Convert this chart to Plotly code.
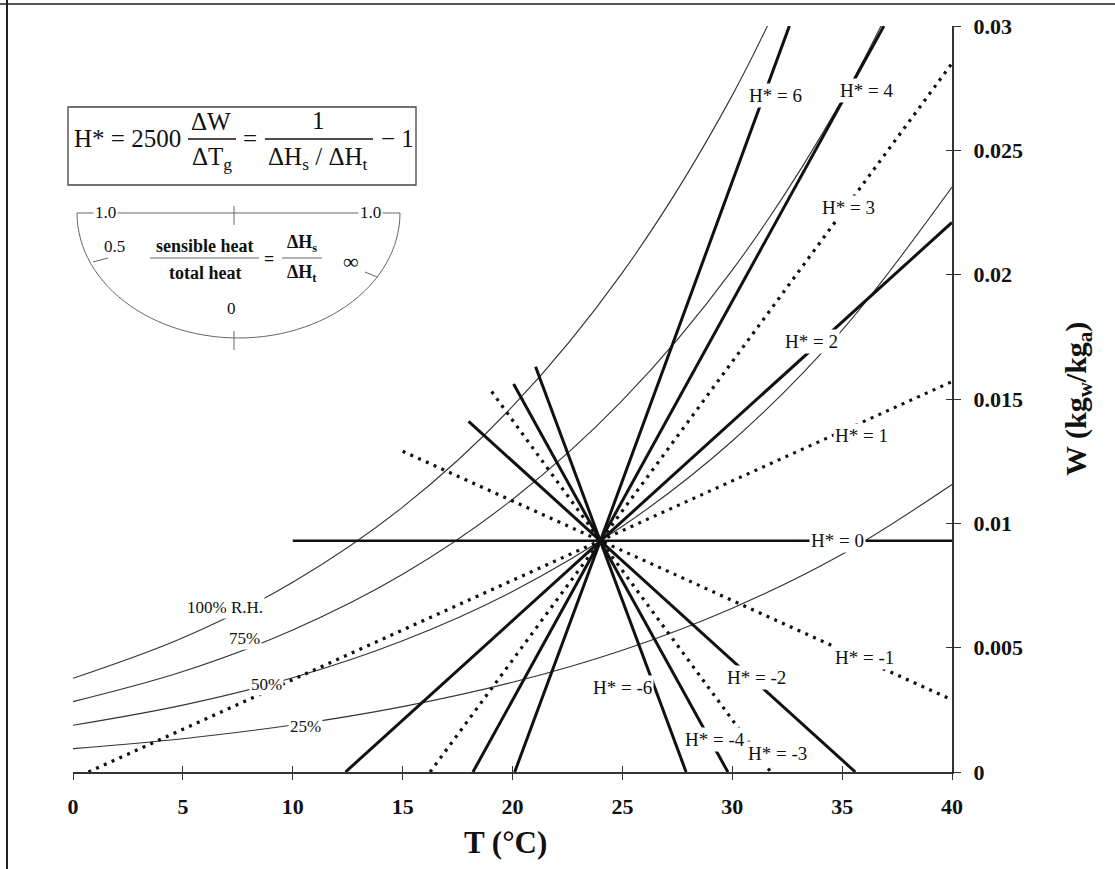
import math
import plotly.graph_objects as go

# ---------------- data ----------------
# Lines of constant H* through the state point (24 C, 0.0093)
hstar = [6, 4, 3, 2, 1, 0, -1, -2, -3, -4, -6]
t_start = [20.1, 18.2, 16.25, 12.4, 0.7, 10.0, 15.0, 18.0, 19.05, 20.05, 21.05]
w_start = [0.0, 0.0, 0.0, 0.0, 0.0, 0.0093, 0.0129, 0.0141, 0.0153, 0.0156, 0.0163]
t_end = [32.6, 36.9, 40.0, 40.0, 40.0, 40.0, 40.0, 35.6, 31.75, 29.8, 27.9]
w_end = [0.030, 0.030, 0.0285, 0.0221, 0.0157, 0.0093, 0.0029, 0.0, 0.0, 0.0, 0.0]
line_kind = ['solid', 'solid', 'dot', 'solid', 'dot', 'solid', 'dot', 'solid', 'dot', 'solid', 'solid']
state_t = 24.0
state_w = 0.0093

# label positions of the H* lines
label_t = [31.95, 36.1, 35.3, 33.6, 35.9, 34.8, 36.0, 31.1, 32.05, 29.2, 25.0]
label_w = [0.0272, 0.0274, 0.0227, 0.0173, 0.01355, 0.0093, 0.0046, 0.0038, 0.00076, 0.0013, 0.00338]

# relative humidity curves
rh_t = [0, 5, 10, 15, 20, 25, 30, 35, 40]
rh100_w = [0.00377, 0.00540, 0.00763, 0.01065, 0.01470, 0.02008, 0.02721, 0.03658, None]
rh75_w = [0.00283, 0.00404, 0.00571, 0.00795, 0.01096, 0.01494, 0.02018, 0.02704, 0.03596]
rh50_w = [0.00188, 0.00269, 0.00379, 0.00528, 0.00726, 0.00988, 0.01331, 0.01777, 0.02352]
rh25_w = [0.00094, 0.00134, 0.00189, 0.00263, 0.00361, 0.00490, 0.00659, 0.00876, 0.01156]
rh_names = ['100% R.H.', '75%', '50%', '25%']
rh_label_t = [6.9, 7.8, 8.8, 10.6]
rh_label_w = [0.0066, 0.00535, 0.0035, 0.00181]

x_ticks = [0, 5, 10, 15, 20, 25, 30, 35, 40]
y_ticks = [0, 0.005, 0.01, 0.015, 0.02, 0.025, 0.03]
y_ticktext = ['0', '0.005', '0.01', '0.015', '0.02', '0.025', '0.03']

# ---------------- figure ----------------
L, R, T, B = 73, 163, 26, 97
W_PX, H_PX = 1115, 869
PW = W_PX - L - R
PH = H_PX - T - B


def px(xp):
    return (xp - L) / PW


def py(yp):
    return (H_PX - B - yp) / PH


FONT = 'Liberation Serif'
INK = '#111111'

fig = go.Figure()

rh_series = [rh100_w, rh75_w, rh50_w, rh25_w]
for name, w in zip(rh_names, rh_series):
    fig.add_trace(go.Scatter(x=rh_t, y=w, mode='lines', name=name,
                             line=dict(color='#333333', width=1.1, shape='spline'),
                             hoverinfo='skip', showlegend=False))

for h, ts, ws, te, we, kind in zip(hstar, t_start, w_start, t_end, w_end, line_kind):
    if kind == 'dot':
        ln = dict(color=INK, width=3.2, dash='3px,5.5px')
    else:
        ln = dict(color=INK, width=3.0 if h != 0 else 2.5)
    fig.add_trace(go.Scatter(x=[ts, state_t, te], y=[ws, state_w, we], mode='lines',
                             name='H* = %d' % h, line=ln, showlegend=False,
                             hoverinfo='skip'))

# invisible trace for the overlay axes (crossing ticks)
fig.add_trace(go.Scatter(x=[0], y=[0], xaxis='x2', yaxis='y2', mode='markers',
                         marker=dict(opacity=0), showlegend=False, hoverinfo='skip'))

annotations = []
for h, lt, lw in zip(hstar, label_t, label_w):
    annotations.append(dict(x=lt, y=lw, xref='x', yref='y', text='H* = %d' % h,
                            showarrow=False, bgcolor='white', borderpad=1,
                            font=dict(family=FONT, size=19, color=INK)))
for name, lt, lw in zip(rh_names, rh_label_t, rh_label_w):
    annotations.append(dict(x=lt, y=lw, xref='x', yref='y', text=name,
                            showarrow=False, bgcolor='white', borderpad=1,
                            font=dict(family=FONT, size=17, color=INK)))


def txt(xp, yp, s, size, bold=False, anchor='center', bg=None, angle=0):
    d = dict(x=px(xp), y=py(yp), xref='paper', yref='paper',
             text=('<b>%s</b>' % s) if bold else s, showarrow=False,
             xanchor=anchor, yanchor='middle', textangle=angle,
             font=dict(family=FONT, size=size, color=INK))
    if bg:
        d['bgcolor'] = bg
        d['borderpad'] = 1
    annotations.append(d)


# axis titles
txt(505, 842, 'T (°C)', 31, bold=True)
txt(1078, 399, 'W (kg<sub>w</sub>/kg<sub>a</sub>)', 30, bold=True, angle=-90)

# equation box
txt(72, 138, 'H* = 2500', 25, anchor='left')
txt(211, 122, 'ΔW', 25)
txt(212, 158, 'ΔT<sub>g</sub>', 25)
txt(250, 138, '=', 25)
txt(318, 121, '1', 25)
txt(318, 158, 'ΔH<sub>s</sub> / ΔH<sub>t</sub>', 25)
txt(397, 138, '− 1', 25)

# gauge texts
txt(105, 213, '1.0', 17, bg='white')
txt(370, 213, '1.0', 17, bg='white')
txt(114, 247, '0.5', 17)
txt(231, 308, '0', 17)
txt(351, 261, '∞', 22)
txt(205, 246, 'sensible heat', 18, bold=True)
txt(205, 273, 'total heat', 18, bold=True)
txt(269, 259, '=', 18, bold=True)
txt(302, 244, 'ΔH<sub>s</sub>', 18, bold=True)
txt(302, 273, 'ΔH<sub>t</sub>', 18, bold=True)

shapes = []


def seg(x0, y0, x1, y1, color=INK, width=1.0):
    shapes.append(dict(type='line', xref='paper', yref='paper',
                       x0=px(x0), y0=py(y0), x1=px(x1), y1=py(y1),
                       line=dict(color=color, width=width)))


# equation box and fraction bars
shapes.append(dict(type='rect', xref='paper', yref='paper',
                   x0=px(68), y0=py(185), x1=px(416), y1=py(107),
                   line=dict(color='#444444', width=1.3), fillcolor='rgba(0,0,0,0)'))
seg(188, 139, 236, 139, width=1.4)
seg(265, 139, 373, 139, width=1.4)

# gauge
GC = '#666666'
seg(77, 213, 400, 213, color=GC, width=1)
seg(234, 206, 234, 225, color=GC, width=1)
seg(234, 331, 234, 350, color=GC, width=1)
seg(93, 262, 108, 258, color=GC, width=1)
seg(377, 277, 365, 272, color=GC, width=1)
seg(150, 258, 259, 258, color=GC, width=1)
seg(282, 258, 322, 258, color=GC, width=1)
cx, cy, rx, ry = 238.5, 213, 161.5, 125
pts = []
for i in range(0, 61):
    a = math.pi * i / 60
    xp = cx - rx * math.cos(a)
    yp = cy + ry * math.sin(a)
    pts.append('%s%.5f,%.5f' % ('M' if i == 0 else 'L', px(xp), py(yp)))
shapes.append(dict(type='path', xref='paper', yref='paper', path=' '.join(pts),
                   line=dict(color=GC, width=1)))

# scan frame (top and left)
seg(0, 4, 1115, 4, color='#555555', width=2)
seg(7, 0, 7, 869, color='#222222', width=2)

axis_common = dict(showgrid=False, zeroline=False, ticks='outside',
                   tickcolor='#333333', tickwidth=1.3)

fig.update_layout(
    width=W_PX, height=H_PX,
    margin=dict(l=L, r=R, t=T, b=B),
    paper_bgcolor='white', plot_bgcolor='white',
    showlegend=False,
    font=dict(family=FONT, color=INK),
    xaxis=dict(range=[0, 40], tickvals=x_ticks, ticklen=6, showline=True,
               linecolor='#333333', linewidth=2, anchor='y',
               tickfont=dict(family=FONT, size=22, color=INK, weight='bold'),
               ticklabelstandoff=8, **axis_common),
    yaxis=dict(range=[0, 0.03], side='right', tickvals=y_ticks, ticktext=y_ticktext,
               ticklen=7, showline=True, linecolor='#333333', linewidth=2,
               anchor='x', tickfont=dict(family=FONT, size=22, color=INK, weight='bold'),
               ticklabelstandoff=8, **axis_common),
    xaxis2=dict(range=[0, 40], overlaying='x', anchor='y2', side='bottom',
                tickvals=x_ticks, ticks='inside', ticklen=6, tickwidth=1.3,
                tickcolor='#333333', showticklabels=False, showgrid=False,
                zeroline=False, showline=False),
    yaxis2=dict(range=[0, 0.03], overlaying='y', anchor='x2', side='right',
                tickvals=y_ticks, ticks='inside', ticklen=6, tickwidth=1.3,
                tickcolor='#333333', showticklabels=False, showgrid=False,
                zeroline=False, showline=False),
    annotations=annotations,
    shapes=shapes,
)

fig.write_html('out.html')
